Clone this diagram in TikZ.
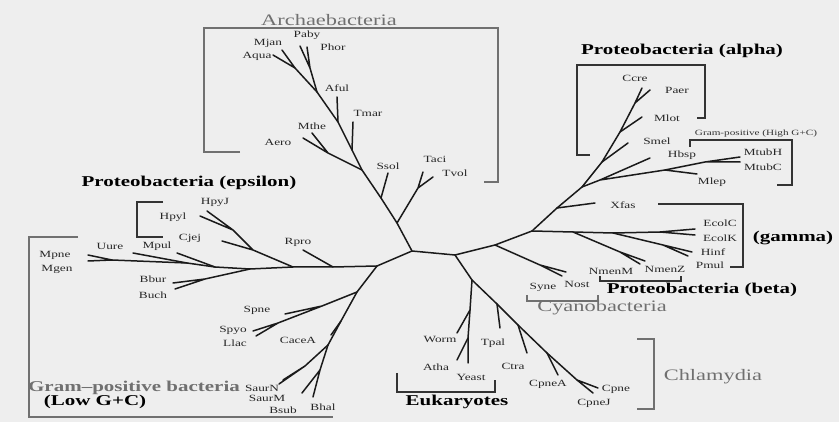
\documentclass[tikz,border=0pt]{standalone}
\usepackage{fontspec}
\setmainfont[FakeStretch=1.4]{Liberation Serif}
\usepackage{tikz}
\usetikzlibrary{positioning}
\definecolor{paper}{HTML}{EEEEEE}
\definecolor{ink}{HTML}{1A1A1A}
\definecolor{clade}{HTML}{707070}

\begin{document}
\begin{tikzpicture}[
  x=1pt, y=-1pt,
  branch/.style={ink,line width=1.5pt,line cap=round,line join=round},
  brk/.style={black!80,line width=1.1pt},
  brkgray/.style={clade,line width=1.1pt},
  taxon/.style={inner sep=0pt,text=black!85,font=\fontsize{9.5}{10}\selectfont},
  grp/.style={inner sep=0pt,font=\fontsize{15}{15}\selectfont\bfseries},
  grpgray/.style={inner sep=0pt,text=clade,font=\fontsize{16}{16}\selectfont}
]
\useasboundingbox (0,0) rectangle (839,422);
\fill[paper] (0,0) rectangle (839,422);

% inner branch points
\coordinate (c0) at (412,251);
\coordinate (r0) at (455,255);
\coordinate (l0) at (377,266);
% archaea
\coordinate (a1) at (397,223);
\coordinate (a2) at (381,198);
\coordinate (a3) at (362,170);
\coordinate (a4) at (352,150);
\coordinate (a5) at (338,122);
\coordinate (a6) at (317,92);
\coordinate (a7) at (295,68);
\coordinate (tv0) at (418,188);
\coordinate (m0) at (328,153);
\coordinate (p0) at (310,68);
% epsilon / mycoplasma side
\coordinate (l1) at (333,267);
\coordinate (l2) at (293,267);
\coordinate (l3) at (250,269);
\coordinate (l4) at (215,267);
\coordinate (l5) at (187,263);
\coordinate (l6) at (112,260);
\coordinate (e1) at (253,250);
\coordinate (e2) at (233,230);
\coordinate (b0) at (205,279);
% low G+C
\coordinate (g1) at (357,292);
\coordinate (g2) at (341,321);
\coordinate (g3) at (328,345);
\coordinate (s0) at (322,306);
\coordinate (s1) at (278,323);
\coordinate (sf) at (305,366);
\coordinate (bf) at (320,370);
% proteobacteria and friends
\coordinate (r1) at (495,245);
\coordinate (r2) at (532,231);
\coordinate (x1) at (557,208);
\coordinate (h0) at (582,187);
\coordinate (al1) at (602,162);
\coordinate (al2) at (620,132);
\coordinate (al3) at (635,103);
\coordinate (n0) at (540,265);
\coordinate (q1) at (573,232);
\coordinate (q2) at (613,233);
\coordinate (ef) at (660,232);
\coordinate (nm) at (620,252);
\coordinate (hf) at (663,245);
\coordinate (hb) at (600,180);
\coordinate (m1) at (665,170);
\coordinate (mt) at (705,162);
% eukaryotes and chlamydia
\coordinate (k0) at (472,280);
\coordinate (eu1) at (470,310);
\coordinate (eu2) at (468,338);
\coordinate (ch1) at (497,304);
\coordinate (ch2) at (518,325);
\coordinate (ch3) at (547,353);
\coordinate (cf) at (577,380);

% leaves
\coordinate (tTaci) at (423,172);
\coordinate (tTvol) at (433,177);
\coordinate (tSsol) at (388,173);
\coordinate (tMthe) at (312,133);
\coordinate (tAero) at (303,138);
\coordinate (tTmar) at (353,122);
\coordinate (tAful) at (337,97);
\coordinate (tPaby) at (300,46);
\coordinate (tPhor) at (307,47);
\coordinate (tMjan) at (282,50);
\coordinate (tAqua) at (273,55);
\coordinate (tRpro) at (303,250);
\coordinate (tCjej) at (222,241);
\coordinate (tHpyJ) at (207,211);
\coordinate (tHpyl) at (200,216);
\coordinate (tBbur) at (173,283);
\coordinate (tBuch) at (175,289);
\coordinate (tMpul) at (177,253);
\coordinate (tUure) at (133,253);
\coordinate (tMpne) at (88,255);
\coordinate (tMgen) at (88,261);
\coordinate (tSpne) at (285,314);
\coordinate (tSpyo) at (253,331);
\coordinate (tLlac) at (256,336);
\coordinate (tCaceA) at (331,335);
\coordinate (tSaurN) at (279,384);
\coordinate (tSaurM) at (283,380);
\coordinate (tBsub) at (302,393);
\coordinate (tBhal) at (313,397);
\coordinate (tSyne) at (562,276);
\coordinate (tNost) at (566,272);
\coordinate (tEcolC) at (695,229);
\coordinate (tEcolK) at (695,235);
\coordinate (tNmenM) at (640,264);
\coordinate (tNmenZ) at (645,261);
\coordinate (tHinf) at (692,252);
\coordinate (tPmul) at (688,256);
\coordinate (tXfas) at (595,203);
\coordinate (tHbsp) at (650,158);
\coordinate (tMtubH) at (740,157);
\coordinate (tMtubC) at (740,162);
\coordinate (tMlep) at (697,174);
\coordinate (tSmel) at (628,143);
\coordinate (tMlot) at (642,117);
\coordinate (tCcre) at (642,88);
\coordinate (tPaer) at (650,90);
\coordinate (tWorm) at (457,333);
\coordinate (tAtha) at (457,360);
\coordinate (tYeast) at (468,363);
\coordinate (tTpal) at (500,328);
\coordinate (tCtra) at (527,353);
\coordinate (tCpneA) at (558,375);
\coordinate (tCpne) at (598,388);
\coordinate (tCpneJ) at (593,393);

% tree
\draw[branch] (l0) -- (c0) -- (r0);
\draw[branch] (c0) -- (a1) -- (a2) -- (a3) -- (a4) -- (a5) -- (a6) -- (a7);
\draw[branch] (a1) -- (tv0) -- (tTaci) (tv0) -- (tTvol);
\draw[branch] (a2) -- (tSsol);
\draw[branch] (a3) -- (m0) -- (tMthe) (m0) -- (tAero);
\draw[branch] (a4) -- (tTmar);
\draw[branch] (a5) -- (tAful);
\draw[branch] (a6) -- (p0) -- (tPaby) (p0) -- (tPhor);
\draw[branch] (a7) -- (tMjan) (a7) -- (tAqua);

\draw[branch] (l0) -- (l1) -- (l2) -- (l3) -- (l4) -- (l5) -- (l6);
\draw[branch] (l1) -- (tRpro);
\draw[branch] (l2) -- (e1) -- (tCjej) (e1) -- (e2) -- (tHpyJ) (e2) -- (tHpyl);
\draw[branch] (l3) -- (b0) -- (tBbur) (b0) -- (tBuch);
\draw[branch] (l4) -- (tMpul);
\draw[branch] (l5) -- (tUure);
\draw[branch] (l6) -- (tMpne) (l6) -- (tMgen);

\draw[branch] (l0) -- (g1) -- (g2) -- (g3);
\draw[branch] (g1) -- (s0) -- (tSpne) (s0) -- (s1) -- (tSpyo) (s1) -- (tLlac);
\draw[branch] (g2) -- (tCaceA);
\draw[branch] (g3) -- (sf) -- (tSaurN) (sf) -- (tSaurM);
\draw[branch] (g3) -- (bf) -- (tBsub) (bf) -- (tBhal);

\draw[branch] (r0) -- (r1) -- (r2) -- (x1) -- (h0) -- (al1) -- (al2) -- (al3);
\draw[branch] (r1) -- (n0) -- (tSyne) (n0) -- (tNost);
\draw[branch] (r2) -- (q1) -- (q2) -- (ef) -- (tEcolC) (ef) -- (tEcolK);
\draw[branch] (q1) -- (nm) -- (tNmenM) (nm) -- (tNmenZ);
\draw[branch] (q2) -- (hf) -- (tHinf) (hf) -- (tPmul);
\draw[branch] (x1) -- (tXfas);
\draw[branch] (h0) -- (hb) -- (tHbsp) (hb) -- (m1) -- (mt) -- (tMtubH) (mt) -- (tMtubC);
\draw[branch] (m1) -- (tMlep);
\draw[branch] (al1) -- (tSmel);
\draw[branch] (al2) -- (tMlot);
\draw[branch] (al3) -- (tCcre) (al3) -- (tPaer);

\draw[branch] (r0) -- (k0) -- (ch1) -- (ch2) -- (ch3) -- (cf) -- (tCpne) (cf) -- (tCpneJ);
\draw[branch] (k0) -- (eu1) -- (eu2) -- (tYeast);
\draw[branch] (eu1) -- (tWorm);
\draw[branch] (eu2) -- (tAtha);
\draw[branch] (ch1) -- (tTpal);
\draw[branch] (ch2) -- (tCtra);
\draw[branch] (ch3) -- (tCpneA);

% taxon labels
\node[taxon] (nMjan)  at (268,43)  {Mjan};
\node[taxon] (nAqua)  at (257,56)  {Aqua};
\node[taxon] (nPaby)  at (307,35)  {Paby};
\node[taxon] (nPhor)  at (333,47)  {Phor};
\node[taxon] (nAful)  at (337,88)  {Aful};
\node[taxon] (nTmar)  at (368,113) {Tmar};
\node[taxon] (nMthe)  at (312,126) {Mthe};
\node[taxon] (nAero)  at (278,142) {Aero};
\node[taxon] (nSsol)  at (388,166) {Ssol};
\node[taxon] (nTaci)  at (435,159) {Taci};
\node[taxon] (nTvol)  at (455,173) {Tvol};

\node[taxon] (nMpne)  at (55,255)  {Mpne};
\node[taxon] (nMgen)  at (57,269)  {Mgen};
\node[taxon] (nUure)  at (110,246) {Uure};
\node[taxon] (nMpul)  at (157,246) {Mpul};
\node[taxon] (nCjej)  at (190,238) {Cjej};
\node[taxon] (nHpyl)  at (173,217) {Hpyl};
\node[taxon] (nHpyJ)  at (215,202) {HpyJ};
\node[taxon] (nRpro)  at (298,242) {Rpro};
\node[taxon] (nBbur)  at (153,279) {Bbur};
\node[taxon] (nBuch)  at (153,295) {Buch};
\node[taxon] (nSpne)  at (257,310) {Spne};
\node[taxon] (nSpyo)  at (233,330) {Spyo};
\node[taxon] (nLlac)  at (235,343) {Llac};
\node[taxon] (nCaceA) at (298,340) {CaceA};
\node[taxon] (nSaurN) at (262,388) {SaurN};
\node[taxon] (nSaurM) at (267,398) {SaurM};
\node[taxon] (nBsub)  at (283,410) {Bsub};
\node[taxon] (nBhal)  at (323,407) {Bhal};

\node[taxon] (nCcre)  at (635,78)  {Ccre};
\node[taxon] (nPaer)  at (677,90)  {Paer};
\node[taxon] (nMlot)  at (667,118) {Mlot};
\node[taxon] (nSmel)  at (657,141) {Smel};
\node[taxon] (nHbsp)  at (682,155) {Hbsp};
\node[taxon] (nMtubH) at (763,152) {MtubH};
\node[taxon] (nMtubC) at (763,167) {MtubC};
\node[taxon] (nMlep)  at (712,182) {Mlep};
\node[taxon] (nXfas)  at (623,205) {Xfas};
\node[taxon] (nEcolC) at (720,223) {EcolC};
\node[taxon] (nEcolK) at (720,238) {EcolK};
\node[taxon] (nHinf)  at (713,252) {Hinf};
\node[taxon] (nPmul)  at (710,265) {Pmul};
\node[taxon] (nNmenM) at (611,271) {NmenM};
\node[taxon] (nNmenZ) at (665,269) {NmenZ};
\node[taxon] (nSyne)  at (543,287) {Syne};
\node[taxon] (nNost)  at (577,284) {Nost};

\node[taxon] (nWorm)  at (440,339) {Worm};
\node[taxon] (nAtha)  at (436,367) {Atha};
\node[taxon] (nYeast) at (471,377) {Yeast};
\node[taxon] (nTpal)  at (493,343) {Tpal};
\node[taxon] (nCtra)  at (513,366) {Ctra};
\node[taxon] (nCpneA) at (548,384) {CpneA};
\node[taxon] (nCpne)  at (616,389) {Cpne};
\node[taxon] (nCpneJ) at (594,403) {CpneJ};

% group names
\node[grpgray] (gArch)  at (329,20)  {Archaebacteria};
\node[grp]     (gAlpha) at (682,51)  {Proteobacteria (alpha)};
\node[inner sep=0pt,text=black!80,font=\fontsize{8}{8}\selectfont]
               (gHigh)  at (756,134) {Gram-positive (High G+C)};
\node[grp]     (gGamma) at (793,238) {(gamma)};
\node[grp]     (gBeta)  at (702,290) {Proteobacteria (beta)};
\node[grpgray] (gCyano) at (602,308) {Cyanobacteria};
\node[grpgray] (gChla)  at (713,377) {Chlamydia};
\node[grp]     (gEuk)   at (457,402) {Eukaryotes};
\node[grp]     (gEps)   at (189,183) {Proteobacteria (epsilon)};
\node[grpgray,font=\fontsize{15}{15}\selectfont\bfseries]
               (gLow)   at (134,388) {Gram--positive bacteria};
\node[grp]     (gLowGC) at (95,402)  {(Low G+C)};

% clade brackets
\draw[brkgray] (240,152) -- (204,152) -- (204,28) -- (498,28) -- (498,182) -- (484,182);
\draw[brk] (590,155) -- (577,155) -- (577,65) -- (705,65) -- (705,118) -- (697,118);
\draw[brk] (690,147) -- (690,140) -- (792,140) -- (792,185) -- (777,185);
\draw[brk] (658,204) -- (743,204) -- (743,267) -- (730,267);
\draw[brk] (600,276) -- (600,281) -- (681,281) -- (681,276);
\draw[brkgray] (527,295) -- (527,301) -- (598,301) -- (598,295);
\draw[brk] (397,373) -- (397,392) -- (495,392) -- (495,380);
\draw[brkgray] (637,339) -- (654,339) -- (654,409) -- (637,409);
\draw[brk] (163,202) -- (137,202) -- (137,237) -- (163,237);
\draw[brkgray] (78,237) -- (29,237) -- (29,417) -- (333,417);
\end{tikzpicture}
\end{document}
